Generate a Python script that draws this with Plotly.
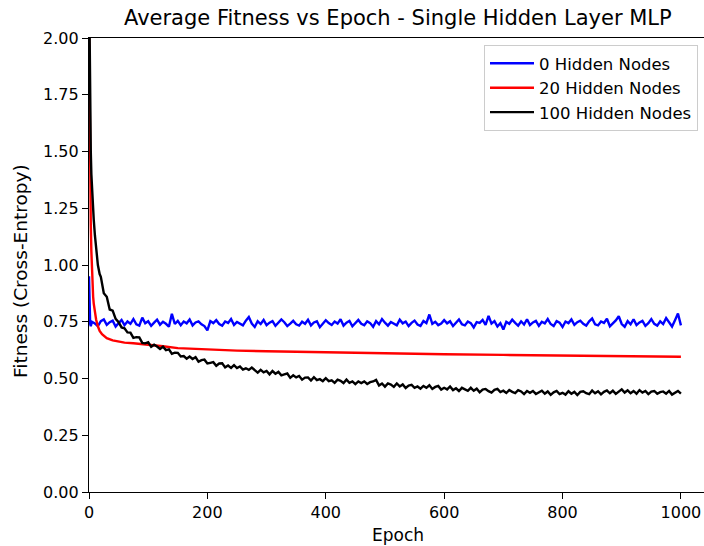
import plotly.graph_objects as go

# ---------------- data ----------------
blue_epochs = [0, 1, 2, 3, 5] + list(range(10, 1001, 5))
blue_vals = [0.95, 0.80, 0.74, 0.73, 0.75,
    0.742, 0.731, 0.753, 0.760, 0.736, 0.748, 0.755, 0.729, 0.744, 0.758,
    0.735, 0.751, 0.741, 0.762, 0.739, 0.733, 0.768, 0.743, 0.752, 0.732,
    0.746, 0.759, 0.737, 0.750, 0.741, 0.728, 0.785, 0.740, 0.754, 0.735,
    0.751, 0.743, 0.760, 0.734, 0.747, 0.752, 0.739, 0.731, 0.712, 0.753,
    0.744, 0.757, 0.740, 0.733, 0.751, 0.745, 0.762, 0.736, 0.749, 0.741,
    0.734, 0.755, 0.771, 0.742, 0.727, 0.752, 0.740, 0.758, 0.735, 0.746,
    0.753, 0.732, 0.745, 0.760, 0.748, 0.731, 0.742, 0.754, 0.739, 0.733,
    0.750, 0.741, 0.759, 0.734, 0.747, 0.752, 0.726, 0.743, 0.757, 0.744,
    0.736, 0.751, 0.742, 0.761, 0.733, 0.746, 0.754, 0.730, 0.745, 0.758,
    0.741, 0.735, 0.752, 0.744, 0.728, 0.753, 0.739, 0.762, 0.746, 0.733,
    0.749, 0.740, 0.734, 0.759, 0.743, 0.751, 0.731, 0.745, 0.755, 0.738,
    0.732, 0.753, 0.744, 0.782, 0.741, 0.750, 0.735, 0.742, 0.757, 0.743,
    0.752, 0.731, 0.746, 0.760, 0.739, 0.734, 0.751, 0.744, 0.725, 0.748,
    0.745, 0.758, 0.736, 0.776, 0.742, 0.753, 0.729, 0.744, 0.716, 0.750,
    0.741, 0.759, 0.745, 0.733, 0.752, 0.738, 0.761, 0.735, 0.747, 0.754,
    0.732, 0.750, 0.743, 0.762, 0.740, 0.731, 0.753, 0.746, 0.727, 0.751,
    0.744, 0.760, 0.736, 0.748, 0.755, 0.741, 0.733, 0.752, 0.764, 0.739,
    0.734, 0.751, 0.745, 0.763, 0.730, 0.742, 0.756, 0.774, 0.740, 0.728,
    0.753, 0.739, 0.761, 0.735, 0.747, 0.754, 0.732, 0.744, 0.762, 0.741,
    0.733, 0.752, 0.740, 0.766, 0.745, 0.729, 0.757, 0.786, 0.734]

red_epochs = [0, 1, 2, 3, 4, 5, 6, 7, 8, 10, 12, 15, 18, 22, 26, 30, 40, 50,
              60, 75, 100, 125, 150, 200, 250, 300, 400, 500, 600, 700, 800,
              900, 1000]
red_vals = [2.10, 1.60, 1.35, 1.18, 1.06, 0.97, 0.91, 0.86, 0.83, 0.79, 0.76,
            0.73, 0.71, 0.695, 0.685, 0.678, 0.668, 0.662, 0.658, 0.655,
            0.650, 0.642, 0.634, 0.627, 0.623, 0.620, 0.615, 0.611, 0.607,
            0.604, 0.601, 0.598, 0.596]

black_epochs = [0, 1, 2, 3, 4, 5, 6, 7, 8, 10, 12, 15, 18] + list(range(20, 1001, 5))
black_vals = [2.30, 1.90, 1.65, 1.50, 1.40, 1.33, 1.28, 1.24, 1.20, 1.13, 1.08, 1.00, 0.96,
    0.948, 0.876, 0.860, 0.804, 0.799, 0.763, 0.748, 0.725, 0.721, 0.703,
    0.702, 0.679, 0.682, 0.681, 0.657, 0.655, 0.660, 0.640, 0.649, 0.641,
    0.630, 0.640, 0.625, 0.628, 0.609, 0.614, 0.613, 0.597, 0.599, 0.587,
    0.597, 0.586, 0.594, 0.574, 0.581, 0.583, 0.566, 0.569, 0.572, 0.556,
    0.566, 0.567, 0.549, 0.557, 0.547, 0.559, 0.546, 0.553, 0.539, 0.545,
    0.538, 0.548, 0.539, 0.526, 0.538, 0.527, 0.533, 0.518, 0.533, 0.521,
    0.529, 0.514, 0.518, 0.522, 0.503, 0.514, 0.505, 0.511, 0.495, 0.504,
    0.505, 0.491, 0.506, 0.493, 0.497, 0.488, 0.501, 0.488, 0.492, 0.481,
    0.495, 0.490, 0.480, 0.495, 0.481, 0.487, 0.475, 0.487, 0.480, 0.487,
    0.476, 0.484, 0.487, 0.494, 0.469, 0.478, 0.464, 0.478, 0.473, 0.463,
    0.478, 0.465, 0.474, 0.458, 0.469, 0.472, 0.459, 0.465, 0.455, 0.467,
    0.459, 0.470, 0.454, 0.463, 0.467, 0.451, 0.459, 0.452, 0.465, 0.449,
    0.457, 0.445, 0.459, 0.453, 0.446, 0.459, 0.446, 0.455, 0.439, 0.451,
    0.454, 0.444, 0.438, 0.450, 0.454, 0.440, 0.446, 0.436, 0.449, 0.441,
    0.436, 0.449, 0.443, 0.431, 0.445, 0.437, 0.445, 0.432, 0.439, 0.446,
    0.433, 0.443, 0.428, 0.439, 0.445, 0.431, 0.437, 0.429, 0.444, 0.433,
    0.441, 0.427, 0.441, 0.444, 0.435, 0.431, 0.447, 0.435, 0.444, 0.430,
    0.441, 0.447, 0.435, 0.446, 0.432, 0.444, 0.452, 0.438, 0.448, 0.435,
    0.445, 0.433, 0.449, 0.438, 0.445, 0.431, 0.442, 0.445, 0.433, 0.440,
    0.443, 0.433, 0.445, 0.429, 0.439, 0.445, 0.433]

series_names = ["0 Hidden Nodes", "20 Hidden Nodes", "100 Hidden Nodes"]
series_colors = ["#0000ff", "#ff0000", "#000000"]

x_ticks = [0, 200, 400, 600, 800, 1000]
y_ticks = [0.0, 0.25, 0.5, 0.75, 1.0, 1.25, 1.5, 1.75, 2.0]

title_text = "Average Fitness vs Epoch - Single Hidden Layer MLP"
x_label = "Epoch"
y_label = "Fitness (Cross-Entropy)"

# ---------------- figure ----------------
FONT = "DejaVu Sans"
fig = go.Figure()
for xs, ys, name, col in zip([blue_epochs, red_epochs, black_epochs],
                             [blue_vals, red_vals, black_vals],
                             series_names, series_colors):
    fig.add_trace(go.Scatter(x=xs, y=ys, mode="lines", name=name,
                             line=dict(color=col, width=2.4)))

W, H = 704, 546
L, R, T, B = 89, 0, 38, 54
pw = W - L - R
ph = H - T - B

fig.update_layout(
    width=W, height=H,
    margin=dict(l=L, r=R, t=T, b=B, pad=0),
    paper_bgcolor="white", plot_bgcolor="white",
    font=dict(family=FONT, size=16, color="#000000"),
    showlegend=True,
    legend=dict(x=1 - 6 / pw, xanchor="right", y=1 - 7 / ph, yanchor="top",
                bgcolor="rgba(255,255,255,0.8)", bordercolor="#cccccc",
                borderwidth=1, font=dict(family=FONT, size=16.5, color="#000000"),
                itemwidth=44, tracegroupgap=0),
    xaxis=dict(range=[0, 1039], tickvals=x_ticks, ticks="outside", ticklen=6,
               tickwidth=1.3, tickcolor="#000000", showline=True,
               linecolor="#000000", linewidth=1.3, mirror=True,
               showgrid=False, zeroline=False,
               tickfont=dict(family=FONT, size=16, color="#000000")),
    yaxis=dict(range=[0, 2], tickvals=y_ticks, tickformat=".2f",
               ticks="outside", ticklen=6, tickwidth=1.3, tickcolor="#000000",
               showline=True, linecolor="#000000", linewidth=1.3,
               mirror=False, showgrid=False, zeroline=False,
               tickfont=dict(family=FONT, size=16, color="#000000")),
    annotations=[
        dict(text=title_text, xref="paper", yref="paper",
             x=(398 - L) / pw, y=1 + 20 / ph, xanchor="center",
             yanchor="middle", showarrow=False,
             font=dict(family=FONT, size=21, color="#000000")),
        dict(text=x_label, xref="paper", yref="paper",
             x=(398 - L) / pw, y=-(535 - (T + ph)) / ph, xanchor="center",
             yanchor="middle", showarrow=False,
             font=dict(family=FONT, size=17, color="#000000")),
        dict(text=y_label, xref="paper", yref="paper",
             x=-(L - 20) / pw, y=(492 - 271) / ph, xanchor="center",
             yanchor="middle", textangle=-90, showarrow=False,
             font=dict(family=FONT, size=18.5, color="#000000")),
    ],
)

fig.write_html("out.html")
